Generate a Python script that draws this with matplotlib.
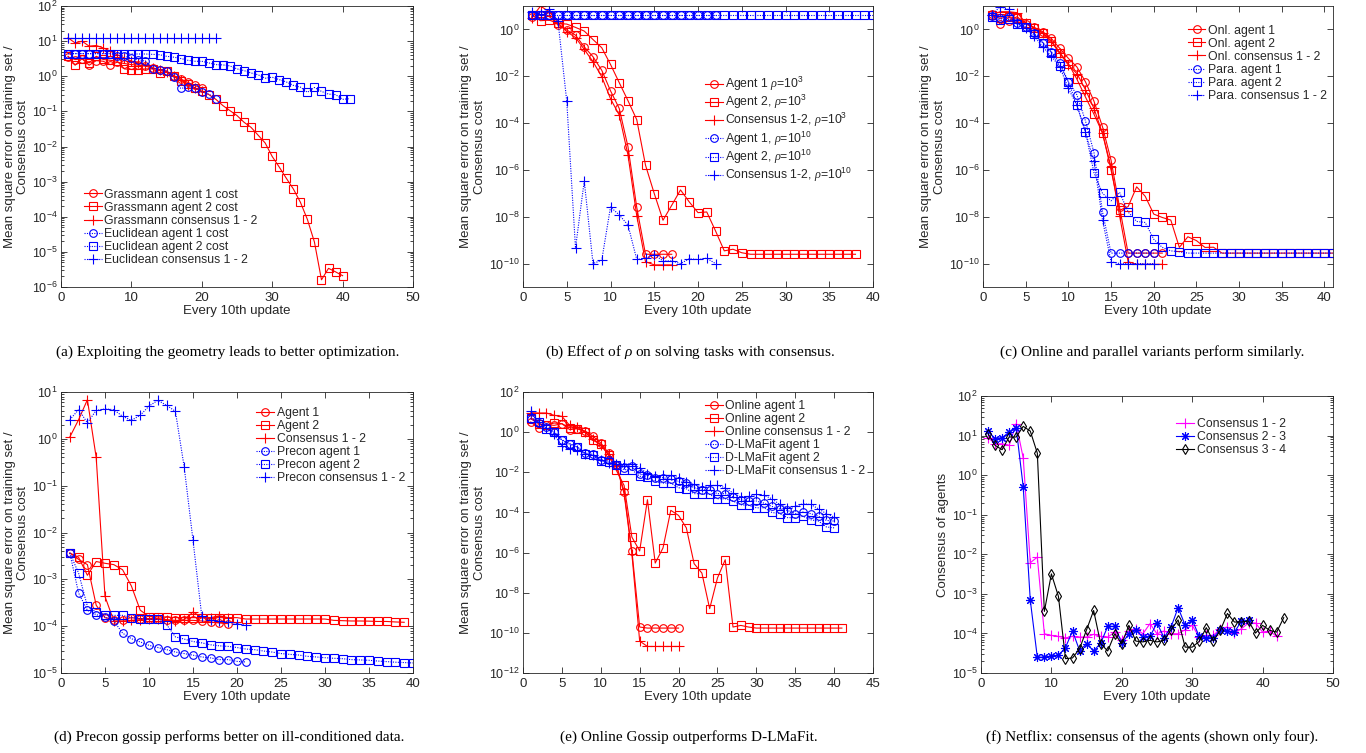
import matplotlib
matplotlib.use('Agg')
import matplotlib.pyplot as plt
import numpy as np
from matplotlib.ticker import LogLocator, NullLocator, FixedLocator

# ---- (a) Grassmann vs Euclidean
a_grass_agent1 = [3.56, 2.99, 3.12, 2.06, 2.79, 2.67, 2.15, 2.51, 2.30, 2.15, 2.06, 1.93, 1.73, 1.55,
                  1.39, 1.04, 0.84, 0.67, 0.55, 0.45]
a_grass_agent2 = [3.7, 2.06, 3.2, 2.4, 3.7, 3.0, 2.85, 2.67, 1.62, 1.55, 1.55, 1.62, 1.62, 1.24, 1.39,
                  1.0, 0.72, 0.62, 0.47, 0.37, 0.30, 0.22, 0.146, 0.105, 0.076, 0.049, 0.035, 0.021,
                  0.0126, 0.0052, 0.0026, 0.00125, 6.2e-4, 2.6e-4, 8.4e-5, 1.9e-5, 1.6e-6, 3.4e-6,
                  2.7e-6, 2.1e-6]
a_grass_cons = [12.4, 8.9, 9.9, 7.2, 7.5, 6.4, 5.2, 4.1, 3.3, 2.7, 2.4, 2.15, 1.73, 1.48, 1.30, 1.0,
                0.80, 0.58, 0.47, 0.37]
a_eucl_agent1 = [4.42, 4.42, 4.42, 4.42, 4.42, 4.42, 4.42, 3.88, 3.71, 3.33, 2.98, 2.67, 1.65, 1.55,
                 1.45, 0.94, 0.45, 0.49, 0.47, 0.36, 0.31, 0.23]
a_eucl_agent2 = [4.4, 4.4, 4.4, 4.4, 4.4, 4.4, 4.4, 4.4, 4.4, 4.3, 4.3, 4.3, 4.2, 4.1, 3.7, 3.5, 3.2,
                 2.85, 2.67, 2.67, 2.4, 2.15, 2.1, 1.97, 1.62, 1.45, 1.24, 1.1, 0.88, 0.94, 0.8, 0.69,
                 0.55, 0.49, 0.35, 0.48, 0.37, 0.31, 0.30, 0.22, 0.23]
a_eucl_cons = [12.6, 12.6, 12.6, 12.6, 12.6, 12.6, 12.6, 12.6, 12.6, 12.6, 12.6, 12.6, 12.6, 12.6,
               12.6, 12.6, 12.6, 12.6, 12.6, 12.6, 12.6, 12.6]

# ---- (b) effect of rho
b_agent1_r3 = [3.5, 4.1, 3.7, 1.53, 0.94, 0.57, 0.18, 0.068, 0.018, 2.4e-3, 4.2e-4, 9.7e-6, 2.5e-8,
               2.5e-10, 2.5e-10, 2.5e-10, 2.5e-10]
b_agent2_r3 = [4.1, 2.35, 2.5, 1.8, 1.69, 1.22, 0.85, 0.37, 0.165, 0.032, 5.3e-3, 9e-4, 1.4e-4, 1.6e-6,
               9.8e-8, 7.1e-9, 3.1e-8, 1.4e-7, 4.3e-8, 1.5e-8, 1.6e-8, 2.5e-9, 3.5e-10, 4.1e-10,
               2.9e-10, 2.5e-10, 2.5e-10, 2.5e-10, 2.5e-10, 2.5e-10, 2.5e-10, 2.5e-10, 2.5e-10,
               2.5e-10, 2.5e-10, 2.5e-10, 2.5e-10, 2.5e-10]
b_cons_r3 = [3.2, 9.9, 5.7, 1.9, 0.8, 0.45, 0.14, 0.042, 9.5e-3, 1.1e-3, 2.2e-4, 4.3e-6, 1.1e-8,
             1.2e-10, 8.8e-11, 8.8e-11, 8.8e-11]
b_agent1_r10 = [4.2, 4.2, 4.2, 4.2, 4.2, 4.2, 4.2, 4.2, 4.2, 4.2, 4.2, 4.2, 4.2, 4.2, 4.2, 4.2, 4.2,
                4.2, 4.2, 4.2, 4.2, 4.2]
b_agent2_r10 = [4.2, 4.2, 4.2, 4.2, 4.2, 4.2, 4.2, 4.2, 4.2, 4.2, 4.2, 4.2, 4.2, 4.2, 4.2, 4.2, 4.2,
                4.2, 4.2, 4.2, 4.2, 4.2, 4.2, 4.2, 4.2, 4.2, 4.2, 4.2, 4.2, 4.2, 4.2, 4.2, 4.2, 4.2,
                4.2, 4.2, 4.2, 4.2, 4.2, 4.2]
b_cons_r10 = [5.7, 4.6, 7.1, 2.2, 8.6e-4, 4.6e-10, 3.4e-7, 1.0e-10, 1.4e-10, 2.6e-8, 1.2e-8, 4.4e-9,
              1.5e-10, 1.7e-10, 2.4e-10, 1.3e-10, 1.3e-10, 1.0e-10, 1.6e-10, 1.5e-10, 1.7e-10,
              1.0e-10]

# ---- (c) online vs parallel
c_onl_agent1 = [4.5, 1.69, 2.35, 3.5, 1.69, 1.22, 0.8, 0.41, 0.154, 0.058, 0.025, 5.8e-3, 8.6e-4,
                6.9e-5, 2.6e-6, 2.5e-8, 2.8e-10, 2.8e-10, 2.8e-10, 2.8e-10, 2.8e-10]
c_onl_agent2 = [4.1, 2.95, 3.5, 2.95, 1.93, 1.18, 0.72, 0.33, 0.1, 0.035, 7.5e-3, 1.3e-3, 2.4e-4,
                3.8e-5, 1.0e-6, 1.9e-8, 2.7e-8, 1.9e-7, 7.5e-8, 1.3e-8, 9.3e-9, 7.2e-9, 4.9e-10,
                1.4e-9, 9.6e-10, 4.9e-10, 5.0e-10, 2.8e-10, 2.8e-10, 2.8e-10, 2.8e-10, 2.8e-10,
                2.8e-10, 2.8e-10, 2.8e-10, 2.8e-10, 2.8e-10, 2.8e-10, 2.8e-10, 2.8e-10, 2.8e-10]
c_onl_cons = [4.1, 5.7, 5.7, 5.2, 1.93, 1.1, 0.67, 0.3, 0.094, 0.030, 0.013, 2.7e-3, 4.2e-4, 3.6e-5,
              1.3e-6, 1.1e-8, 1.2e-10, 9.3e-11, 9.3e-11, 9.3e-11, 9.3e-11]
c_para_agent1 = [3.7, 2.95, 3.25, 1.8, 1.3, 0.67, 0.27, 0.11, 0.038, 5.8e-3, 1.6e-3, 1.25e-4, 5.5e-6,
                 1.6e-8, 2.8e-10, 2.8e-10, 2.8e-10, 2.8e-10, 2.8e-10, 2.8e-10]
c_para_agent2 = [3.5, 2.5, 2.7, 1.69, 1.22, 0.61, 0.27, 0.1, 0.027, 5.8e-3, 5.8e-4, 4.2e-5, 7.6e-7,
                 1.0e-7, 4.8e-8, 1.1e-7, 1.6e-8, 6.3e-9, 5.7e-9, 1.1e-9, 4.9e-10, 3.5e-10, 3.2e-10,
                 2.8e-10, 2.8e-10, 2.8e-10, 2.8e-10, 2.8e-10, 2.8e-10, 2.8e-10, 2.8e-10, 2.8e-10,
                 2.8e-10, 2.8e-10, 2.8e-10, 2.8e-10, 2.8e-10, 2.8e-10, 2.8e-10, 2.8e-10, 2.8e-10]
c_para_cons = [4.1, 9.3, 7.1, 1.93, 1.1, 0.52, 0.18, 0.072, 0.025, 3.0e-3, 5.8e-4, 4.2e-5, 2.3e-6,
               7.2e-9, 1.2e-10, 1.0e-10, 1.0e-10, 1.0e-10, 1.0e-10, 1.0e-10]

# ---- (d) precon gossip
d_agent1 = [3.65e-3, 2.67e-3, 2.06e-3, 2.8e-4, 1.52e-4, 1.38e-4, 1.38e-4, 1.52e-4, 1.45e-4, 1.45e-4,
            1.45e-4, 1.38e-4, 1.33e-4, 1.33e-4, 1.33e-4, 1.29e-4, 1.23e-4, 1.17e-4, 1.13e-4]
d_agent2 = [3.65e-3, 2.95e-3, 1.22e-3, 2.4e-3, 2.2e-3, 2.06e-3, 1.6e-3, 7.2e-4, 2.2e-4, 1.6e-4,
            1.57e-4, 1.57e-4, 1.52e-4, 1.52e-4, 1.52e-4, 1.52e-4, 1.52e-4, 1.52e-4, 1.52e-4, 1.52e-4,
            1.42e-4, 1.42e-4, 1.42e-4, 1.42e-4, 1.42e-4, 1.42e-4, 1.42e-4, 1.42e-4, 1.42e-4, 1.42e-4,
            1.33e-4, 1.31e-4, 1.29e-4, 1.29e-4, 1.28e-4, 1.26e-4, 1.26e-4, 1.23e-4, 1.21e-4]
d_cons = [1.09, 2.56, 6.85, 0.4, 4.3e-4, 1.29e-4, 1.29e-4, 1.33e-4, 1.38e-4, 1.45e-4, 1.45e-4,
          1.33e-4, 1.29e-4, 1.38e-4, 2.0e-4, 1.56e-4, 1.52e-4, 1.67e-4, 1.52e-4]
d_pre_agent1 = [3.65e-3, 5.1e-4, 2.18e-4, 1.76e-4, 1.57e-4, 1.29e-4, 7.1e-5, 5.4e-5, 4.6e-5, 3.9e-5,
                3.5e-5, 3.15e-5, 2.8e-5, 2.6e-5, 2.4e-5, 2.2e-5, 2.1e-5, 1.93e-5, 1.93e-5, 1.77e-5,
                1.72e-5]
d_pre_agent2 = [3.65e-3, 1.36e-3, 2.65e-4, 2.0e-4, 1.76e-4, 1.7e-4, 1.7e-4, 1.52e-4, 1.45e-4, 1.4e-4,
                1.4e-4, 1.08e-4, 5.9e-5, 5.3e-5, 4.7e-5, 4.4e-5, 4.0e-5, 3.8e-5, 3.7e-5, 3.5e-5,
                3.25e-5, 3.15e-5, 2.95e-5, 2.8e-5, 2.6e-5, 2.5e-5, 2.42e-5, 2.27e-5, 2.2e-5, 2.12e-5,
                2.06e-5, 2.02e-5, 1.93e-5, 1.9e-5, 1.87e-5, 1.8e-5, 1.75e-5, 1.7e-5, 1.67e-5, 1.64e-5]
d_pre_cons = [2.56, 4.2, 2.2, 4.06, 4.34, 4.2, 3.02, 2.48, 3.18, 5.0, 6.64, 5.19, 3.86, 0.25, 6.8e-3,
              1.62e-4, 1.33e-4, 1.29e-4, 1.23e-4, 1.13e-4, 1.04e-4]

# ---- (e) online gossip vs D-LMaFit
e_onl_agent1 = [3.2, 1.6, 2.36, 2.18, 2.64, 1.33, 1.49, 1.14, 0.62, 0.29, 0.091, 0.024, 1.1e-3,
                1.2e-6, 1.95e-10, 1.73e-10, 1.73e-10, 1.73e-10, 1.73e-10, 1.73e-10]
e_onl_agent2 = [4.7, 2.64, 2.18, 2.85, 2.64, 1.67, 1.49, 1.0, 0.39, 0.25, 0.07, 0.0125, 2.2e-3, 5.9e-6,
                1.2e-6, 4.3e-4, 3.0e-7, 1.7e-6, 1.27e-4, 7.1e-5, 1.7e-5, 2.8e-7, 9.5e-8, 1.6e-9,
                5.4e-8, 4.4e-7, 1.95e-10, 2.35e-10, 1.95e-10, 1.73e-10, 1.73e-10, 1.73e-10, 1.73e-10,
                1.73e-10, 1.73e-10, 1.73e-10, 1.73e-10, 1.73e-10, 1.73e-10, 1.73e-10, 1.73e-10]
e_onl_cons = [9.3, 9.0, 9.0, 6.9, 6.1, 2.18, 1.8, 1.0, 0.47, 0.22, 0.078, 0.022, 8.6e-4, 8.8e-7,
              3.9e-11, 2.1e-11, 2.1e-11, 2.1e-11, 2.1e-11, 2.1e-11]
e_dlm_agent1 = [4.7, 2.85, 1.8, 1.02, 0.42, 0.27, 0.18, 0.091, 0.078, 0.042, 0.039, 0.024, 0.017,
                0.0198, 7.9e-3, 7.0e-3, 5.4e-3, 5.4e-3, 4.4e-3, 3.5e-3, 2.9e-3, 1.7e-3, 1.36e-3,
                1.26e-3, 8.6e-4, 8.6e-4, 5.9e-4, 4.3e-4, 3.7e-4, 3.7e-4, 2.9e-4, 2.0e-4, 1.5e-4,
                1.27e-4, 8.7e-5, 1.05e-4, 8.7e-5, 6.4e-5, 4.0e-5, 3.7e-5]
e_dlm_agent2 = [5.3, 3.2, 1.49, 1.0, 0.39, 0.25, 0.18, 0.085, 0.07, 0.036, 0.0325, 0.022, 0.0135,
                0.0135, 6.3e-3, 5.8e-3, 3.5e-3, 2.9e-3, 2.9e-3, 1.7e-3, 1.5e-3, 8.6e-4, 8.6e-4,
                7.9e-4, 4.8e-4, 4.8e-4, 3.7e-4, 2.4e-4, 2.25e-4, 1.7e-4, 1.7e-4, 1.0e-4, 8.7e-5,
                5.5e-5, 5.5e-5, 6.4e-5, 4.3e-5, 3.7e-5, 1.9e-5, 1.7e-5]
e_dlm_cons = [11.3, 3.2, 1.67, 0.78, 0.196, 0.15, 0.134, 0.078, 0.07, 0.042, 0.029, 0.025, 0.027,
              0.025, 0.017, 8.5e-3, 6.3e-3, 7.0e-3, 7.0e-3, 5.4e-3, 3.3e-3, 2.5e-3, 1.85e-3, 2.2e-3,
              2.2e-3, 1.7e-3, 9.3e-4, 5.9e-4, 6.3e-4, 7.9e-4, 7.1e-4, 4.8e-4, 2.5e-4, 1.7e-4, 2.0e-4,
              2.7e-4, 2.5e-4, 1.5e-4, 8.7e-5, 5.9e-5]

# ---- (f) Netflix consensus
f_cons12 = [8.85, 6.2, 6.2, 5.66, 20, 2.7, 6.1e-3, 8.5e-3, 9.8e-5, 8.9e-5, 8.4e-5, 7.7e-5, 8.4e-5,
            8.1e-5, 8.1e-5, 9.5e-5, 8.4e-5, 8.1e-5, 1.08e-4, 6.9e-5, 1.15e-4, 1.32e-4, 9.8e-5, 1.76e-4,
            9.8e-5, 1.15e-4, 9.8e-5, 9.8e-5, 1.24e-4, 1.6e-4, 8.1e-5, 8.9e-5, 8.9e-5, 1.32e-4,
            1.45e-4, 1.02e-4, 1.32e-4, 1.83e-4, 1.83e-4, 1.08e-4, 1.15e-4, 8.4e-5]
f_cons23 = [13, 8.4, 8.85, 12.3, 15.5, 0.5, 6.9e-4, 2.5e-5, 2.5e-5, 2.7e-5, 2.8e-5, 4.4e-5, 1.15e-4,
            3.7e-5, 5.5e-5, 3.6e-5, 5.7e-5, 1.5e-4, 1.5e-4, 5.7e-5, 9.5e-5, 1.24e-4, 8.1e-5, 8.4e-5,
            1.83e-4, 7.8e-5, 1.45e-4, 4.5e-4, 1.6e-4, 2.2e-4, 8.4e-5, 7.8e-5, 7.8e-5, 1.24e-4,
            1.15e-4, 1.08e-4, 2.06e-4, 2.14e-4]
f_cons34 = [11.2, 5.66, 4.4, 9.2, 9.2, 17.1, 13, 3.6, 3.6e-4, 3.2e-3, 8.6e-4, 2.3e-5, 2.4e-5, 4.1e-5,
            1.24e-4, 3.8e-4, 5.5e-5, 3.6e-5, 9.8e-5, 5.5e-5, 1.6e-4, 6.4e-5, 6.1e-5, 6.7e-5, 6.1e-5,
            6.7e-5, 1.24e-4, 2.2e-4, 4.5e-5, 4.5e-5, 6.3e-5, 1.4e-4, 6.4e-5, 1.2e-4, 3.2e-4, 1.94e-4,
            1.94e-4, 2.06e-4, 1.02e-4, 1.6e-4, 1.2e-4, 1.08e-4, 2.5e-4]

captions = ['(a) Exploiting the geometry leads to better optimization.',
            '(b) Effect of $\\mathit{\\rho}$ on solving tasks with consensus.',
            '(c) Online and parallel variants perform similarly.',
            '(d) Precon gossip performs better on ill-conditioned data.',
            '(e) Online Gossip outperforms D-LMaFit.',
            '(f) Netflix: consensus of the agents (shown only four).']

plt.rcParams['font.family'] = ['Liberation Sans', 'DejaVu Sans']
plt.rcParams['mathtext.fontset'] = 'custom'
plt.rcParams['mathtext.rm'] = 'Liberation Sans'
plt.rcParams['mathtext.it'] = 'Liberation Serif:italic'
plt.rcParams['mathtext.default'] = 'regular'

GRAY = '#262626'
W, H = 1366, 753
DOT = (0, (1, 1.2))
ASTER = (8, 2, 0)
fig = plt.figure(figsize=(W / 100, H / 100), dpi=100)


def make_axes(left, right, top, bottom):
    return fig.add_axes([left / W, 1 - bottom / H, (right - left) / W, (bottom - top) / H])


def draw_panel(ax, series, xlim, xticks, ylim, ydecades, minor, leg_xy, ylabel, ylab_x,
               lab_space=0.09):
    for y, color, ls, marker, ms, label in series:
        x = np.arange(1, len(y) + 1)
        ax.plot(x, y, color=color, linestyle=ls, lw=0.8, marker=marker, ms=ms,
                mfc='none', mec=color, mew=0.8, label=label)
    ax.set_yscale('log')
    ax.set_xlim(*xlim)
    ax.set_ylim(*ylim)
    ax.set_xticks(xticks)
    ax.yaxis.set_major_locator(FixedLocator([10.0 ** d for d in ydecades]))
    if minor:
        ax.yaxis.set_minor_locator(LogLocator(base=10, subs=np.arange(2, 10), numticks=30))
    else:
        ax.yaxis.set_minor_locator(NullLocator())
    ax.tick_params(which='both', direction='in', top=True, right=True, colors=GRAY,
                   labelsize=9.5, width=0.6)
    ax.tick_params(axis='y', labelsize=9, pad=2.5)
    ax.tick_params(which='major', length=4.5)
    ax.tick_params(which='minor', length=2.5)
    for sp in ax.spines.values():
        sp.set_color(GRAY)
        sp.set_linewidth(0.6)
    ax.set_xlabel('Every 10th update', fontsize=9.5, color=GRAY, labelpad=1)
    ax.set_ylabel(ylabel, fontsize=9.5, color=GRAY)
    ax.yaxis.set_label_coords(ylab_x, 0.5)
    leg = ax.legend(loc='upper left', bbox_to_anchor=leg_xy, frameon=False, fontsize=8.8,
                    borderaxespad=0, borderpad=0, handlelength=1.45, handletextpad=0.2,
                    labelspacing=lab_space)
    for t in leg.get_texts():
        t.set_color(GRAY)


YLAB = 'Mean square error on training set /\nConsensus cost'

ax_a = make_axes(61, 413, 6, 287)
draw_panel(ax_a, [
    (a_grass_agent1, 'red', '-', 'o', 5.5, 'Grassmann agent 1 cost'),
    (a_grass_agent2, 'red', '-', 's', 5.5, 'Grassmann agent 2 cost'),
    (a_grass_cons, 'red', '-', '+', 7, 'Grassmann consensus 1 - 2'),
    (a_eucl_agent1, 'blue', DOT, 'o', 5.5, 'Euclidean agent 1 cost'),
    (a_eucl_agent2, 'blue', DOT, 's', 5.5, 'Euclidean agent 2 cost'),
    (a_eucl_cons, 'blue', DOT, '+', 7, 'Euclidean consensus 1 - 2'),
], (0, 50), np.arange(0, 51, 10), (1e-6, 1e2), range(-6, 3), True, (0.065, 0.35), YLAB, -0.09)

ax_b = make_axes(523, 873, 6, 287)
draw_panel(ax_b, [
    (b_agent1_r3, 'red', '-', 'o', 5.5, 'Agent 1 $\\mathit{\\rho}$=10$^{3}$'),
    (b_agent2_r3, 'red', '-', 's', 5.5, 'Agent 2, $\\mathit{\\rho}$=10$^{3}$'),
    (b_cons_r3, 'red', '-', '+', 7, 'Consensus 1-2, $\\mathit{\\rho}$=10$^{3}$'),
    (b_agent1_r10, 'blue', DOT, 'o', 5.5, 'Agent 1, $\\mathit{\\rho}$=10$^{10}$'),
    (b_agent2_r10, 'blue', DOT, 's', 5.5, 'Agent 2, $\\mathit{\\rho}$=10$^{10}$'),
    (b_cons_r10, 'blue', DOT, '+', 7, 'Consensus 1-2, $\\mathit{\\rho}$=10$^{10}$'),
], (0, 40), np.arange(0, 41, 5), (1e-11, 1e1), range(-10, 1, 2), False, (0.52, 0.755), YLAB,
    -0.105, lab_space=0.0)

ax_c = make_axes(983, 1333, 6, 287)
draw_panel(ax_c, [
    (c_onl_agent1, 'red', '-', 'o', 5.5, 'Onl. agent 1'),
    (c_onl_agent2, 'red', '-', 's', 5.5, 'Onl. agent 2'),
    (c_onl_cons, 'red', '-', '+', 7, 'Onl. consensus 1 - 2'),
    (c_para_agent1, 'blue', DOT, 'o', 5.5, 'Para. agent 1'),
    (c_para_agent2, 'blue', DOT, 's', 5.5, 'Para. agent 2'),
    (c_para_cons, 'blue', DOT, '+', 7, 'Para. consensus 1 - 2'),
], (0, 41), np.arange(0, 41, 5), (1e-11, 1e1), range(-10, 1, 2), False, (0.585, 0.934), YLAB,
    -0.105)

ax_d = make_axes(61, 413, 392, 673)
draw_panel(ax_d, [
    (d_agent1, 'red', '-', 'o', 5.5, 'Agent 1'),
    (d_agent2, 'red', '-', 's', 5.5, 'Agent 2'),
    (d_cons, 'red', '-', '+', 7, 'Consensus 1 - 2'),
    (d_pre_agent1, 'blue', DOT, 'o', 5.5, 'Precon agent 1'),
    (d_pre_agent2, 'blue', DOT, 's', 5.5, 'Precon agent 2'),
    (d_pre_cons, 'blue', DOT, '+', 7, 'Precon consensus 1 - 2'),
], (0, 40), np.arange(0, 41, 5), (1e-5, 1e1), range(-5, 2), True, (0.555, 0.947), YLAB, -0.09)

ax_e = make_axes(523, 873, 392, 673)
draw_panel(ax_e, [
    (e_onl_agent1, 'red', '-', 'o', 5.5, 'Online agent 1'),
    (e_onl_agent2, 'red', '-', 's', 5.5, 'Online agent 2'),
    (e_onl_cons, 'red', '-', '+', 7, 'Online consensus 1 - 2'),
    (e_dlm_agent1, 'blue', DOT, 'o', 5.5, 'D-LMaFit agent 1'),
    (e_dlm_agent2, 'blue', DOT, 's', 5.5, 'D-LMaFit agent 2'),
    (e_dlm_cons, 'blue', DOT, '+', 7, 'D-LMaFit consensus 1 - 2'),
], (0, 45), np.arange(0, 46, 5), (1e-12, 1e2), range(-12, 3, 2), False, (0.52, 0.972), YLAB,
    -0.105)

ax_f = make_axes(981, 1333, 396, 673)
draw_panel(ax_f, [
    (f_cons12, 'magenta', '-', '+', 7, 'Consensus 1 - 2'),
    (f_cons23, 'blue', '-', ASTER, 6.5, 'Consensus 2 - 3'),
    (f_cons34, 'black', '-', 'd', 5.5, 'Consensus 3 - 4'),
], (0, 50), np.arange(0, 51, 10), (1e-5, 1e2), range(-5, 3), True, (0.555, 0.921),
    'Consensus of agents', -0.09)

cap_x = [228, 690, 1152, 229, 689, 1152]
cap_y = [352, 352, 352, 737, 737, 737]
for cx, cy, txt in zip(cap_x, cap_y, captions):
    fig.text(cx / W, 1 - cy / H, txt, ha='center', va='center', fontsize=11,
             family='Liberation Serif', color='black')

fig.savefig('out.png', dpi=100)
